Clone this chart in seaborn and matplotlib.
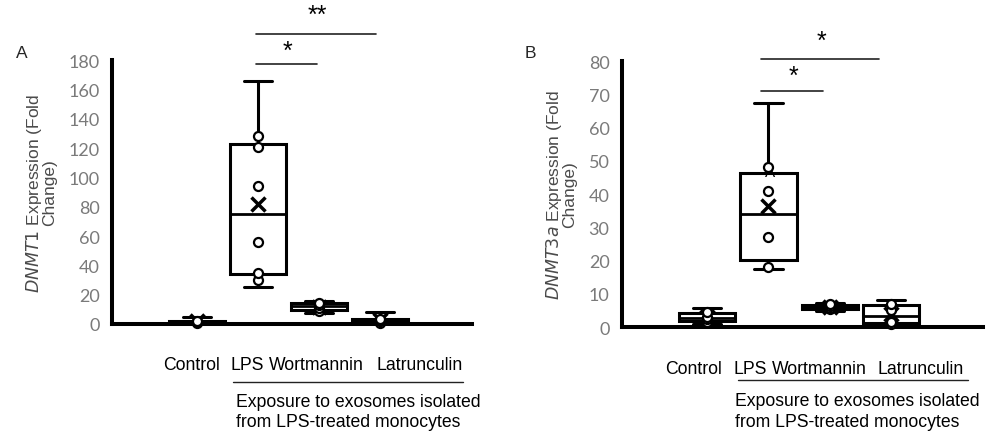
import numpy as np
import pandas as pd
import matplotlib
matplotlib.use("Agg")
import matplotlib.pyplot as plt
import seaborn as sns

sns.set_theme(style="white")
plt.rcParams['font.family'] = ['Liberation Sans', 'DejaVu Sans']

groups = ["Control", "LPS", "Wortmannin", "Latrunculin"]

# Panel A: DNMT1 fold change
a_control = [0.3, 1.0, 1.2, 1.5, 2.0, 4.8]
a_lps = [25, 30, 35, 56, 94, 121, 128, 166]
a_wort = [7.5, 9, 11, 13, 14.5, 15.5]
a_latr = [0.5, 1.0, 2.0, 3.0, 3.5, 8.0]

# Panel B: DNMT3a fold change
b_control = [1.0, 1.5, 2.5, 3.0, 4.5, 5.8]
b_lps = [17.5, 18, 27, 41, 48, 67.5]
b_wort = [4.8, 5.3, 5.8, 6.2, 6.8, 7.2]
b_latr = [0.5, 1.0, 1.5, 5.0, 7.0, 8.0]

a_ticks = [0, 20, 40, 60, 80, 100, 120, 140, 160, 180]
b_ticks = [0, 10, 20, 30, 40, 50, 60, 70, 80]


def long_df(series):
    rows = []
    for g, vals in zip(groups, series):
        for v in vals:
            rows.append((g, v))
    return pd.DataFrame(rows, columns=["group", "value"])


dfA = long_df([a_control, a_lps, a_wort, a_latr])
dfB = long_df([b_control, b_lps, b_wort, b_latr])

fig = plt.figure(figsize=(9.89, 4.39), dpi=100)
axA = fig.add_axes([0.1132, 0.2597, 0.364, 0.6013])
axB = fig.add_axes([0.6289, 0.2528, 0.365, 0.6059])

GRAY_TICK = '#7a7a7a'
GRAY_LABEL = '#4a4a4a'


def draw_panel(ax, df, ticks, ymax, ylabel_gene, label_x, grp_line, exp_xy):
    sns.boxplot(data=df, x="group", y="value", order=groups, ax=ax,
                whis=(0, 100), width=0.92, color="white", linecolor="black",
                linewidth=2.2, fliersize=0, showmeans=True,
                meanprops=dict(marker='x', markersize=10, markeredgewidth=2.5,
                               markeredgecolor='black'),
                medianprops=dict(color='black', linewidth=2.0))
    # inner points (whisker ends are not marked, as in the original)
    gmin = df.groupby("group")["value"].transform("min")
    gmax = df.groupby("group")["value"].transform("max")
    inner = df[(df["value"] > gmin) & (df["value"] < gmax)]
    sns.stripplot(data=inner, x="group", y="value", order=groups, ax=ax,
                  jitter=False, color="white", edgecolor="black", linewidth=1.6,
                  size=6.5, zorder=5, clip_on=False)
    ax.set_xlim(-1.39, 4.5)
    ax.set_ylim(0, ymax)
    ax.set_yticks(ticks)
    ax.set_yticklabels([str(t) for t in ticks], family=['Lato', 'DejaVu Sans'],
                       fontsize=13, color=GRAY_TICK)
    ax.tick_params(axis='y', length=0, pad=9)
    ax.set_xticks([])
    ax.set_xlabel("")
    ax.set_ylabel(r"$\it{" + ylabel_gene + r"}$ Expression (Fold" + "\nChange)",
                  fontsize=12.5, color=GRAY_LABEL, labelpad=8, linespacing=0.85)
    for s in ['top', 'right']:
        ax.spines[s].set_visible(False)
    for s in ['left', 'bottom']:
        ax.spines[s].set_linewidth(2.9)
        ax.spines[s].set_color('black')
    ax.set_facecolor('white')
    # category labels
    for g, lx in zip(groups, label_x):
        ax.text(lx, -0.155, g, transform=ax.transAxes, ha='center', va='center',
                fontsize=12.7, color='black')
    x0, x1, yl = grp_line
    ax.plot([x0, x1], [yl, yl], transform=ax.transAxes, color='#222222',
            linewidth=1.0, clip_on=False)
    ex, ey1, ey2 = exp_xy
    ax.text(ex, ey1, "Exposure to exosomes isolated", transform=ax.transAxes,
            ha='left', va='center', fontsize=12.7, color='black')
    ax.text(ex, ey2, "from LPS-treated monocytes", transform=ax.transAxes,
            ha='left', va='center', fontsize=12.7, color='black')


draw_panel(axA, dfA, a_ticks, 180, "DNMT1",
           [0.222, 0.375, 0.569, 0.856], (0.336, 0.975, -0.22), (0.344, -0.295, -0.37))
draw_panel(axB, dfB, b_ticks, 80, "DNMT3a",
           [0.199, 0.355, 0.546, 0.828], (0.321, 0.958, -0.2), (0.313, -0.278, -0.355))


def sig(ax, x0, x1, y, ystar, txt):
    ax.plot([x0, x1], [y, y], color='#222222', linewidth=1.2, clip_on=False)
    ax.text((x0 + x1) / 2 + 0.02, ystar, txt, ha='center', va='center',
            fontsize=18, color='black', clip_on=False)


sig(axA, 0.97, 1.97, 177, 186, "*")
sig(axA, 0.97, 2.93, 198, 211, "**")
sig(axB, 0.88, 1.89, 71, 75.5, "*")
sig(axB, 0.88, 2.8, 80.5, 86, "*")

# stray "A" inside the LPS box in panel B
axB.text(1.03, 46.5, "A", ha='center', va='center', fontsize=11, color='black')

fig.text(0.022, 0.879, "A", ha='center', va='center', fontsize=12.5)
fig.text(0.536, 0.879, "B", ha='center', va='center', fontsize=12.5)

fig.savefig("out.png", dpi=100, facecolor='white')
